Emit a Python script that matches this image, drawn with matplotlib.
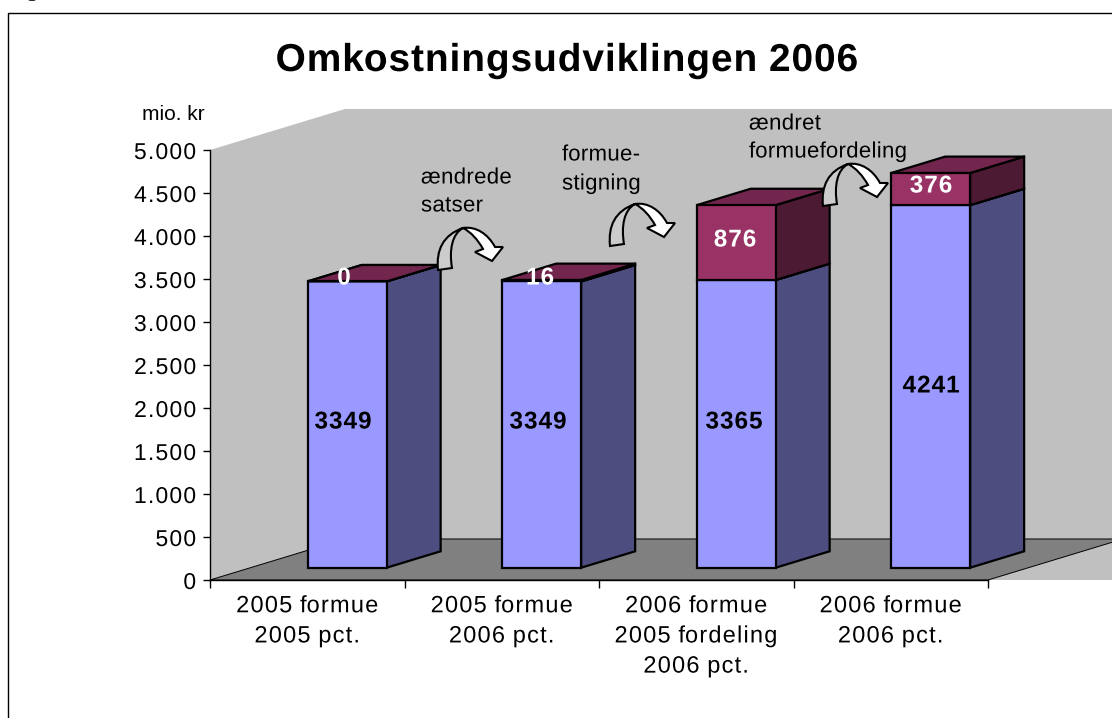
import numpy as np
import matplotlib
matplotlib.use("Agg")
import matplotlib.pyplot as plt
from matplotlib.patches import PathPatch, Polygon
from matplotlib.path import Path
from matplotlib.patheffects import AbstractPathEffect

plt.rcParams['font.family'] = ['Liberation Sans', 'DejaVu Sans']

# data
kategorier = ["2005 formue\n2005 pct.", "2005 formue\n2006 pct.",
              "2006 formue\n2005 fordeling\n2006 pct.", "2006 formue\n2006 pct."]
basis = [3349, 3349, 3365, 4241]
tillaeg = [0, 16, 876, 376]
y_ticks = [0, 500, 1000, 1500, 2000, 2500, 3000, 3500, 4000, 4500, 5000]
y_labels = ["0", "500", "1.000", "1.500", "2.000", "2.500", "3.000", "3.500", "4.000", "4.500", "5.000"]

# 3D look, in axis units
DYBDE_X = 0.694
DYBDE_Y = 477
BAR_BREDDE = 0.406
BAR_START = 0.30
BAR_DYBDE = 0.40
PERSPEKTIV = 0.994


class Sporing(AbstractPathEffect):
    # wider letter spacing, px pixels between glyphs. anker 0 left, 0.5 centre, 1 right
    def __init__(self, px, anker=0.5):
        super().__init__()
        self.px = px
        self.anker = anker

    def draw_path(self, renderer, gc, tpath, affine, rgbFace=None):
        verts = np.array(tpath.vertices)
        codes = tpath.codes
        start = np.flatnonzero(codes == Path.MOVETO)
        slut = np.append(start[1:], len(verts))
        trin = self.px / affine.get_matrix()[0, 0]
        n = -1
        kant = -np.inf
        for s, e in zip(start, slut):
            if verts[s:e, 0].min() > kant:
                n += 1
                kant = verts[s:e, 0].max()
            kant = max(kant, verts[s:e, 0].max())
            verts[s:e, 0] += n * trin
        verts[:, 0] -= self.anker * n * trin
        renderer.draw_path(gc, Path(verts, codes), affine, rgbFace)


def skaev(x, y, d):
    # moves a point d (0-1) towards the back wall
    return (x + d * DYBDE_X, y * PERSPEKTIV + d * DYBDE_Y)


def klods(ax, x0, y0, y1, front, side, top):
    x1 = x0 + BAR_BREDDE
    d0, d1 = BAR_START, BAR_START + BAR_DYBDE
    faces = [
        ([(x1, y0, d0), (x1, y0, d1), (x1, y1, d1), (x1, y1, d0)], side),
        ([(x0, y1, d0), (x1, y1, d0), (x1, y1, d1), (x0, y1, d1)], top),
        ([(x0, y0, d0), (x1, y0, d0), (x1, y1, d0), (x0, y1, d0)], front),
    ]
    for pts, col in faces:
        ax.add_patch(Polygon([skaev(*p) for p in pts], closed=True, facecolor=col,
                             edgecolor='black', linewidth=1.6, joinstyle='miter',
                             clip_on=False, zorder=3))


fig = plt.figure(figsize=(11.12, 7.18), dpi=100)
W, H = 1112, 718

ax = fig.add_axes([210 / W, 1 - 580 / H, 778 / W, 430 / H])
ax.patch.set_visible(False)
ax.set_xlim(0, 4)
ax.set_ylim(0, 5000)

# walls and floor
ax.add_patch(Polygon([(0, 0), (0, 5000), (DYBDE_X, 5000 + DYBDE_Y), (5, 5000 + DYBDE_Y), (5, 0)],
                     closed=True, facecolor='#C0C0C0', edgecolor='none', clip_on=False, zorder=1))
ax.add_patch(Polygon([(0, 0), (4, 0), (4 + DYBDE_X, DYBDE_Y), (DYBDE_X, DYBDE_Y)],
                     closed=True, facecolor='#808080', edgecolor='black', linewidth=0.7,
                     clip_on=False, zorder=2))

for i in range(len(kategorier)):
    x0 = i + (1 - BAR_BREDDE) / 2 - 0.003
    klods(ax, x0, 0, basis[i], '#9999FF', '#4D4D80', '#7A7ACC')
    klods(ax, x0, basis[i], basis[i] + tillaeg[i], '#993366', '#4D1A33', '#73264D')

ax.spines['top'].set_visible(False)
ax.spines['right'].set_visible(False)
ax.spines['left'].set_zorder(4)
ax.spines['bottom'].set_zorder(2.5)
ax.spines['left'].set_linewidth(1)
ax.spines['bottom'].set_linewidth(1)

ax.set_yticks(y_ticks)
ax.set_yticklabels(y_labels, fontsize=16.5)
ax.tick_params(axis='y', length=5, width=1, pad=5)
for lbl in ax.get_yticklabels():
    lbl.set_path_effects([Sporing(1.2, 1)])
ax.set_xticks(range(5))
ax.set_xticklabels([])
ax.tick_params(axis='x', which='major', length=6, width=1)
ax.set_xticks([i + 0.5 for i in range(4)], minor=True)
ax.set_xticklabels(kategorier, minor=True, fontsize=17, linespacing=1.48, va='top')
ax.tick_params(axis='x', which='minor', length=0, pad=11)
for lbl in ax.get_xticklabels(minor=True):
    lbl.set_path_effects([Sporing(1.2, 0.5)])

# overlay in pixels for frame, title, comments and arrows
ov = fig.add_axes([0, 0, 1, 1], zorder=5)
ov.patch.set_visible(False)
ov.set_xlim(0, W)
ov.set_ylim(H, 0)
ov.axis('off')

ov.plot([8, 8, W], [H, 13, 13], color='black', linewidth=1)
ov.text(8, -4, "Figur", family='Liberation Serif', fontsize=16, ha='left', va='baseline', clip_on=False)
ov.text(567, 61, "Omkostningsudviklingen 2006", fontsize=28, fontweight='bold', ha='center', va='center',
        path_effects=[Sporing(0.9, 0.5)])
ov.text(173, 114, "mio. kr", fontsize=15, ha='center', va='center')

noter = [(421, 178, "ændrede"), (421, 206, "satser"), (562, 155, "formue-"), (562, 184, "stigning"),
         (749, 124, "ændret"), (749, 152, "formuefordeling")]
for x, y, tekst in noter:
    ov.text(x, y, tekst, fontsize=16, ha='left', va='center', path_effects=[Sporing(0.3, 0)])

etiketter = [(344, 278, "0"), (540, 278, "16"), (735, 240, "876"), (931, 186, "376"),
             (343, 422, "3349"), (538, 422, "3349"), (734, 422, "3365"), (931, 386, "4241")]
for x, y, tekst in etiketter:
    farve = 'black' if y == 422 or y == 386 else 'white'
    ov.text(x, y, tekst, color=farve, fontsize=17.5, fontweight='bold', ha='center', va='center',
            path_effects=[Sporing(1, 0.5)])


def buepil(x, y):
    M, C, L, Z = Path.MOVETO, Path.CURVE4, Path.LINETO, Path.CLOSEPOLY
    graa = [(0, 0), (-2, -20), (5, -35), (25, -42), (14, -36), (11, -20), (14, -2), (0, 0)]
    graa_k = [M, C, C, C, C, C, C, Z]
    hvid = [(25, -42), (38, -44), (50, -36), (57, -23), (65, -23), (54, -9), (37, -18), (45, -21),
            (40, -30), (33, -38), (25, -42), (25, -42)]
    hvid_k = [M, C, C, C, L, L, L, L, C, C, C, Z]
    for pts, koder, col in [(graa, graa_k, '#CCCCCC'), (hvid, hvid_k, 'white')]:
        flyt = [(x + a, y + b) for a, b in pts]
        ov.add_patch(PathPatch(Path(flyt, koder), facecolor=col, edgecolor='black', linewidth=1.5))


buepil(438, 270)
buepil(610, 246)
buepil(823, 206)

fig.savefig("out.png", dpi=100)
